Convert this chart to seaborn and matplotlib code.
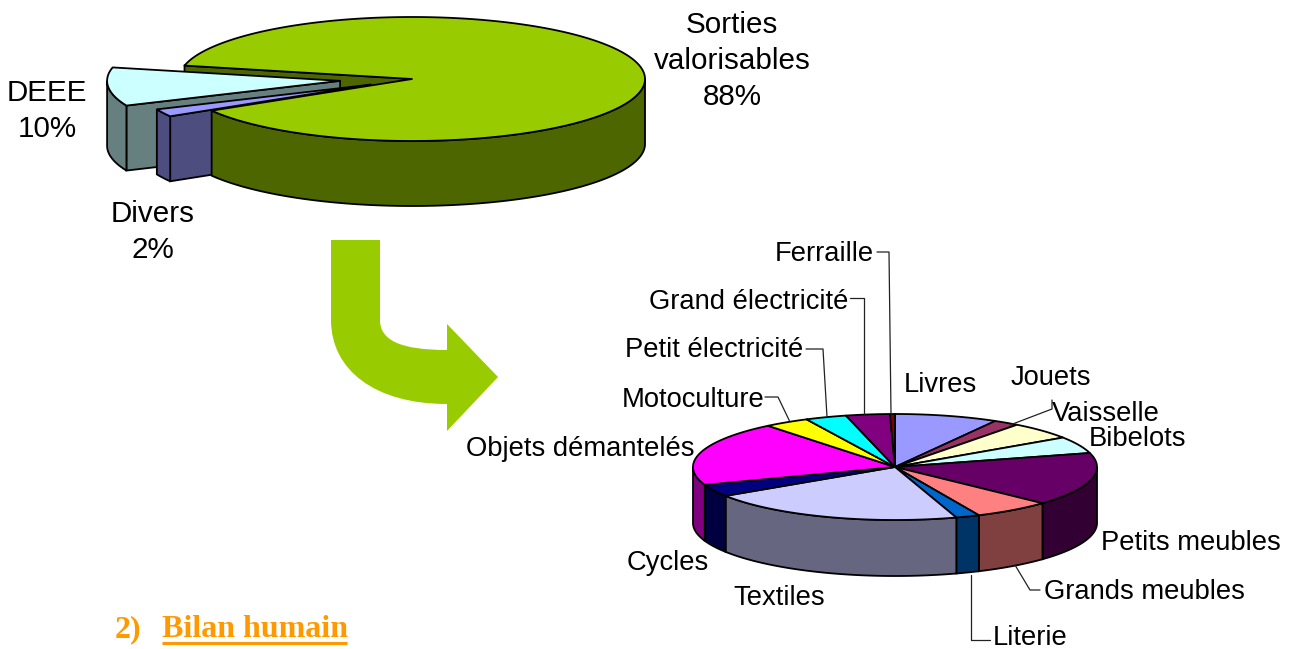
import numpy as np
import seaborn as sns
import matplotlib.pyplot as plt
from matplotlib.patches import PathPatch, Polygon
from matplotlib.path import Path

# top pie
top_labels = ['Sorties\nvalorisables\n88%', 'Divers\n2%', 'DEEE\n10%']
top_values = [88, 2, 10]
top_colors = ['#99CC00', '#9999FF', '#CCFFFF']
top_explode = [0, 0.20, 0.31]

# detail pie
det_labels = ['Livres', 'Jouets', 'Vaisselle', 'Bibelots', 'Petits meubles', 'Grands meubles',
              'Literie', 'Textiles', 'Cycles', 'Objets démantelés', 'Motoculture',
              'Petit électricité', 'Grand électricité', 'Ferraille']
det_values = [8.25, 2.05, 5.3, 5.1, 16.2, 6.2, 1.9, 20.7, 3.7, 19.6, 3.6, 3.3, 3.5, 0.4]
det_colors = ['#9999FF', '#993366', '#FFFFCC', '#CCFFFF', '#660066', '#FF8080', '#0066CC',
              '#CCCCFF', '#000080', '#FF00FF', '#FFFF00', '#00FFFF', '#800080', '#800000']

# label anchors, in pixels of the picture
top_label_pos = [(732, 61), (153, 232), (47, 111)]
det_label_pos = [(904, 385), (1011, 378), (1052, 414), (1089, 439),
                 (1101, 543), (1044, 592), (993, 638), (733, 598),
                 (627, 563), (466, 449), (622, 400), (625, 350),
                 (649, 302), (775, 254)]
leaders = [[(877, 252), (889, 252), (891, 414)],
           [(850, 298), (864, 298), (864, 414)],
           [(806, 349), (823, 349), (827, 417)],
           [(765, 397), (778, 397), (790, 422)],
           [(1052, 400), (1052, 409), (1010, 425)],
           [(971, 575), (971, 640), (990, 640)],
           [(1015, 565), (1030, 590), (1040, 590)]]

EDGE = 1.3


def darker(color):
    return tuple(c * 0.5 for c in sns.color_palette([color])[0])


def arc(pie, t0, t1, dx=0, dy=0):
    cx, cy, a, b = pie[:4]
    t = np.radians(np.linspace(t0, t1, max(int(abs(t1 - t0)) * 2, 2)))
    return np.column_stack([cx + dx + a * np.sin(t), cy + dy - b * np.cos(t)])


def shift(pie, t0, t1, explode):
    # exploded slices move along the middle of their angle
    mid = np.radians((t0 + t1) / 2)
    return pie[2] * explode * np.sin(mid), -pie[3] * explode * np.cos(mid)


def draw_wall(ax, pie, t0, t1, color, dx=0, dy=0):
    # outer wall, only the part that faces the viewer
    lo, hi = t0, t1
    if hi > 360 and lo >= 270:
        lo, hi = lo - 360, hi - 360
    lo, hi = max(lo, 90), min(hi, 270)
    if lo >= hi:
        return
    pts = arc(pie, lo, hi, dx, dy)
    low = pts[::-1] + [0, pie[4]]
    ax.add_patch(Polygon(np.vstack([pts, low]), fc=darker(color), ec='black', lw=EDGE))


def draw_face(ax, pie, t, color, dx=0, dy=0):
    # cut side of a slice
    outer = arc(pie, t, t + 1, dx, dy)[0]
    apex = np.array([pie[0] + dx, pie[1] + dy])
    down = np.array([0, pie[4]])
    ax.add_patch(Polygon([apex, outer, outer + down, apex + down], fc=darker(color), ec='black', lw=EDGE))


def draw_top(ax, pie, t0, t1, color, dx=0, dy=0):
    pts = arc(pie, t0, t1, dx, dy)
    apex = [pie[0] + dx, pie[1] + dy]
    ax.add_patch(Polygon(np.vstack([[apex], pts]), fc=color, ec='black', lw=EDGE, joinstyle='round'))


def bounds(values, start):
    ang = np.cumsum([0] + list(values)) / sum(values) * 360 + start
    return ang[:-1], ang[1:]


sns.set_theme(style='white')
plt.rcParams['font.family'] = ['Liberation Sans', 'DejaVu Sans']

fig = plt.figure(figsize=(12.92, 6.49), dpi=100)
ax = fig.add_axes([0, 0, 1, 1])
ax.set_xlim(0, 1292)
ax.set_ylim(649, 0)
ax.axis('off')

# top pie, drawn back to front
pie1 = (412, 79, 233, 62, 65)
s1, e1 = bounds(top_values, 282.5)
draw_face(ax, pie1, s1[0], top_colors[0])
for i in [2, 1]:
    s, e = s1[i] % 360, (s1[i] % 360) + (e1[i] - s1[i])
    dx, dy = shift(pie1, s, e, top_explode[i])
    draw_face(ax, pie1, s, top_colors[i], dx, dy)
    draw_wall(ax, pie1, s, e, top_colors[i], dx, dy)
    draw_top(ax, pie1, s, e, top_colors[i], dx, dy)
draw_wall(ax, pie1, s1[0] - 360, e1[0] - 360, top_colors[0])
draw_top(ax, pie1, s1[0], e1[0], top_colors[0])

for txt, (x, y) in zip(top_labels, top_label_pos):
    ax.text(x, y, txt, ha='center', va='center', fontsize=21.3, color='black', linespacing=1.38)

# detail pie
pie2 = (895, 467, 202, 53, 56)
s2, e2 = bounds(det_values, 0)
for t0, t1, c in zip(s2, e2, det_colors):
    draw_wall(ax, pie2, t0, t1, c)
for t0, t1, c in zip(s2, e2, det_colors):
    draw_top(ax, pie2, t0, t1, c)

for line in leaders:
    ax.plot(*zip(*line), color='#222222', lw=0.9, zorder=1.5)

for txt, (x, y) in zip(det_labels, det_label_pos):
    ax.text(x, y, txt, ha='left', va='center', fontsize=19.7, color='black')

# curved arrow between the pies
verts = [(331, 240), (380, 240), (380, 320), (380, 340), (400, 350), (447, 350),
         (447, 324), (498, 377), (447, 431), (447, 404),
         (375, 404), (331, 370), (331, 320), (331, 240)]
codes = [Path.MOVETO, Path.LINETO, Path.LINETO, Path.CURVE4, Path.CURVE4, Path.CURVE4,
         Path.LINETO, Path.LINETO, Path.LINETO, Path.LINETO,
         Path.CURVE4, Path.CURVE4, Path.CURVE4, Path.CLOSEPOLY]
ax.add_patch(PathPatch(Path(verts, codes), fc='#99CC00', ec='none'))

# section heading
ax.text(115, 637, '2)', fontsize=23, fontweight='bold', family='Liberation Serif', color='#FF9900', va='baseline')
ax.text(162, 637, 'Bilan humain', fontsize=23, fontweight='bold', family='Liberation Serif', color='#FF9900', va='baseline')
ax.plot([162, 347], [643, 643], color='#FF9900', lw=2.2, solid_capstyle='butt')

fig.savefig('out.png', dpi=100)
